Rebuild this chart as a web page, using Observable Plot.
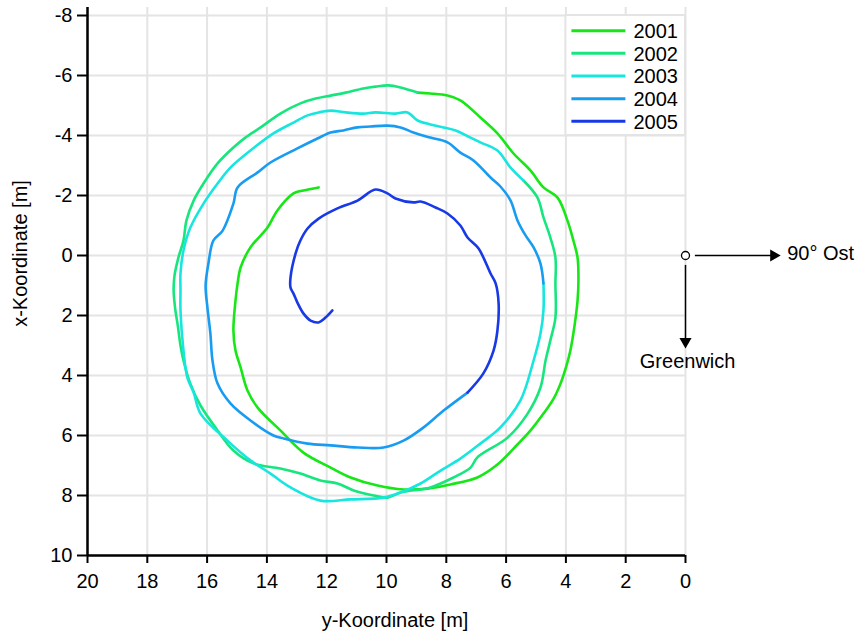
<!DOCTYPE html>
<html><head><meta charset="utf-8">
<script src="https://cdn.jsdelivr.net/npm/d3@7"></script>
<script src="https://cdn.jsdelivr.net/npm/@observablehq/plot@0.6"></script>
<style>
body{margin:0;background:#fff;font-family:"Liberation Sans",Arial,sans-serif;}
#chart{position:relative;width:858px;height:635px;}
</style></head><body><div id="chart"></div>
<script>
// Legend / series
const years = ["2001","2002","2003","2004","2005"];
const colors = ["#17e617","#17e67e","#17e6df","#189cf2","#1739e6"];

// Each point: [y-Koordinate, x-Koordinate] in metres
const track2001 = [[12.27,-2.27],[12.78,-2.17],[13.11,-2.07],[13.65,-1.5],[13.98,-0.93],[14.55,-0.27],[14.88,0.4],[14.98,0.93],[15.05,1.5],[15.12,2.5],[15.05,3.17],[14.88,3.73],[14.65,4.5],[14.31,5.07],[13.55,5.83],[12.78,6.57],[11.87,7.07],[11.2,7.4],[10.3,7.67],[9.43,7.8],[8.63,7.77],[7.86,7.63],[6.96,7.4],[6.29,6.97],[5.62,6.3],[5.18,5.83],[4.75,5.27],[4.41,4.77],[4.18,4.27],[3.98,3.67],[3.85,3.17],[3.71,2.33],[3.61,1.5],[3.58,0.83],[3.61,0.07],[3.75,-0.5],[3.95,-1.17],[4.28,-1.93],[4.75,-2.27],[5.18,-2.83],[5.75,-3.4],[6.29,-4.07],[6.86,-4.6],[7.53,-5.17],[7.96,-5.33],[8.53,-5.4],[8.96,-5.43]];
const track2002 = [[8.96,-5.43],[9.53,-5.6],[9.93,-5.67],[10.37,-5.63],[10.77,-5.57],[11.37,-5.43],[11.87,-5.33],[12.37,-5.23],[12.88,-5.07],[13.55,-4.73],[14.21,-4.27],[14.72,-3.93],[15.12,-3.6],[15.65,-3.07],[16.12,-2.4],[16.45,-1.83],[16.69,-1.17],[16.79,-0.5],[16.96,0.07],[17.09,0.67],[17.12,1.17],[17.06,1.83],[16.99,2.27],[16.89,3.0],[16.79,3.5],[16.56,4.27],[16.22,5.0],[15.65,5.83],[15.12,6.5],[14.45,6.93],[13.55,7.1],[12.88,7.27],[12.21,7.5],[11.64,7.6],[11.1,7.83],[10.43,8.0],[9.97,8.07],[9.53,7.9],[8.53,7.73],[7.76,7.4],[7.19,7.07],[6.96,6.73],[5.95,6.07],[5.28,5.27],[4.85,4.4],[4.68,3.5],[4.52,2.83],[4.35,2.07],[4.35,0.93],[4.35,0.07],[4.52,-0.6],[4.75,-1.27],[4.95,-1.93],[5.42,-2.5]];
const track2003 = [[5.42,-2.5],[5.85,-2.93],[6.29,-3.5],[6.86,-3.77],[7.19,-3.93],[7.69,-4.17],[8.09,-4.27],[8.53,-4.37],[8.96,-4.5],[9.3,-4.77],[9.7,-4.73],[10.37,-4.77],[10.77,-4.73],[11.37,-4.77],[11.87,-4.83],[12.27,-4.77],[12.64,-4.67],[13.11,-4.43],[13.78,-4.07],[14.55,-3.5],[15.22,-2.93],[15.65,-2.4],[16.12,-1.73],[16.56,-0.93],[16.79,-0.17],[16.89,0.6],[16.89,1.17],[16.89,1.83],[16.79,3.17],[16.66,4.07],[16.45,4.57],[16.22,5.27],[15.32,6.17],[14.55,6.83],[13.88,7.27],[13.21,7.73],[12.21,8.17],[11.2,8.13],[10.1,8.07],[9.53,7.9],[8.86,7.6],[8.19,7.17],[7.53,6.77],[6.86,6.27],[6.19,5.73],[5.52,4.83],[5.08,3.5],[4.85,2.6],[4.75,1.83],[4.75,0.93]];
const track2004 = [[4.75,0.93],[4.85,0.27],[5.08,-0.27],[5.35,-0.67],[5.62,-1.17],[5.85,-1.83],[6.19,-2.3],[6.52,-2.6],[7.09,-3.17],[7.53,-3.43],[7.96,-3.77],[8.53,-3.93],[9.1,-4.1],[9.53,-4.27],[9.97,-4.33],[10.54,-4.3],[10.97,-4.27],[11.44,-4.17],[11.87,-4.1],[12.31,-3.9],[12.98,-3.57],[13.88,-3.1],[14.31,-2.77],[14.98,-2.27],[15.12,-1.73],[15.48,-0.83],[15.79,-0.5],[15.95,0.23],[16.05,1.0],[15.99,1.73],[15.89,2.6],[15.82,3.5],[15.65,4.27],[15.22,4.93],[14.55,5.5],[13.78,6.0],[13.44,6.1],[12.64,6.27],[11.87,6.33],[10.97,6.4],[10.1,6.4],[9.43,6.17],[8.76,5.73],[8.09,5.17],[7.29,4.57]];
const track2005 = [[7.29,4.57],[6.76,3.93],[6.42,3.17],[6.29,2.5],[6.25,1.6],[6.35,0.93],[6.52,0.6],[6.92,-0.23],[7.29,-0.6],[7.53,-1.0],[7.96,-1.4],[8.36,-1.6],[8.86,-1.8],[9.1,-1.77],[9.7,-1.9],[9.97,-2.07],[10.37,-2.2],[10.97,-1.83],[11.64,-1.57],[12.27,-1.23],[12.64,-0.9],[12.88,-0.5],[13.04,-0.07],[13.21,0.73],[13.21,1.07],[13.11,1.27],[12.98,1.57],[12.78,1.93],[12.54,2.17],[12.27,2.23],[12.04,2.07],[11.81,1.83]];

// Axis ticks
const xTicks = [20,18,16,14,12,10,8,6,4,2,0];
const yTicks = [-8,-6,-4,-2,0,2,4,6,8,10];

// Annotation (direction marker)
const origin = [[0,0]];
const eastArrow = {from: -0.33, to: -2.9, tip: -2.95};
const southArrow = {from: 0.33, to: 2.8, tip: 2.87};
const eastLabel = {x: -3.4, y: -0.05, text: "90° Ost"};
const southLabel = {x: -0.07, y: 3.55, text: "Greenwich"};

const tracks = [track2001, track2002, track2003, track2004, track2005];
const rows = tracks.flatMap((t, i) => t.map(([yk, xk]) => ({year: years[i], yk, xk})));

const grid = "#e4e4e4";
const font = "Liberation Sans, Arial, sans-serif";

const plot = Plot.plot({
  width: 858, height: 635,
  marginLeft: 87, marginRight: 0, marginTop: 7, marginBottom: 80,
  x: {domain: [20, -5.786]},
  y: {domain: [10, -8.267]},
  color: {domain: years, range: colors},
  style: {fontFamily: font, fontSize: "20px", background: "white", color: "black"},
  marks: [
    Plot.ruleX(xTicks, {stroke: grid, strokeWidth: 2}),
    Plot.ruleY(yTicks, {x1: 20, x2: 0, stroke: grid, strokeWidth: 2}),
    Plot.line(rows, {x: "yk", y: "xk", z: "year", stroke: "year", strokeWidth: 2.6, strokeLinejoin: "round", curve: "catmull-rom"}),
    Plot.ruleX([20], {stroke: "black", strokeWidth: 2.5}),
    Plot.ruleY([10], {x1: 20, x2: 0, stroke: "black", strokeWidth: 2.5}),
    Plot.axisX({ticks: xTicks, tickSize: 8, tickPadding: 10, tickFormat: d => String(d), label: null, fontSize: 20, strokeWidth: 2}),
    Plot.axisY({ticks: yTicks, tickSize: 10, tickPadding: 5, tickFormat: d => String(d), label: null, fontSize: 20, strokeWidth: 2}),
    Plot.text(["y-Koordinate [m]"], {frameAnchor: "bottom", textAnchor: "middle", lineAnchor: "middle", dx: -78, dy: 65, fontSize: 20}),
    Plot.text(["x-Koordinate [m]"], {frameAnchor: "left", textAnchor: "middle", lineAnchor: "middle", rotate: -90, dx: -67, dy: -28, fontSize: 20}),
    // annotation arrows
    Plot.ruleY([0], {x1: eastArrow.from, x2: eastArrow.to, stroke: "black", strokeWidth: 1.5}),
    Plot.dot([eastArrow.tip], {x: d => d, y: 0, symbol: "triangle", rotate: 90, r: 4.5, fill: "black", stroke: "none"}),
    Plot.ruleX([0], {y1: southArrow.from, y2: southArrow.to, stroke: "black", strokeWidth: 1.5}),
    Plot.dot([southArrow.tip], {x: 0, y: d => d, symbol: "triangle", rotate: 180, r: 4.5, fill: "black", stroke: "none"}),
    Plot.dot(origin, {x: d => d[0], y: d => d[1], r: 4, fill: "white", stroke: "black", strokeWidth: 1.3}),
    Plot.text([eastLabel], {x: "x", y: "y", text: "text", textAnchor: "start", fontSize: 20}),
    Plot.text([southLabel], {x: "x", y: "y", text: "text", fontSize: 20})
  ]
});

// Legend in the top-right grid cell block
const sx = plot.scale("x"), sy = plot.scale("y");
const lx0 = sx.apply(4), lx1 = sx.apply(0), ly0 = sy.apply(-8), ly1 = sy.apply(-4);
const g = d3.select(plot).append("g");
g.append("rect").attr("x", lx0).attr("y", ly0).attr("width", lx1 - lx0).attr("height", ly1 - ly0)
  .attr("fill", "white").attr("stroke", grid).attr("stroke-width", 2);
years.forEach((yr, i) => {
  const cy = ly0 + 15.7 + i * 22.65;
  g.append("line").attr("x1", lx0 + 6).attr("x2", lx0 + 60).attr("y1", cy).attr("y2", cy)
    .attr("stroke", colors[i]).attr("stroke-width", 3);
  g.append("text").attr("x", lx0 + 68).attr("y", cy).attr("dy", "0.36em")
    .attr("text-anchor", "start")
    .attr("font-family", font).attr("font-size", 20).attr("fill", "black").text(yr);
});

document.getElementById("chart").appendChild(plot);
</script></body></html>
